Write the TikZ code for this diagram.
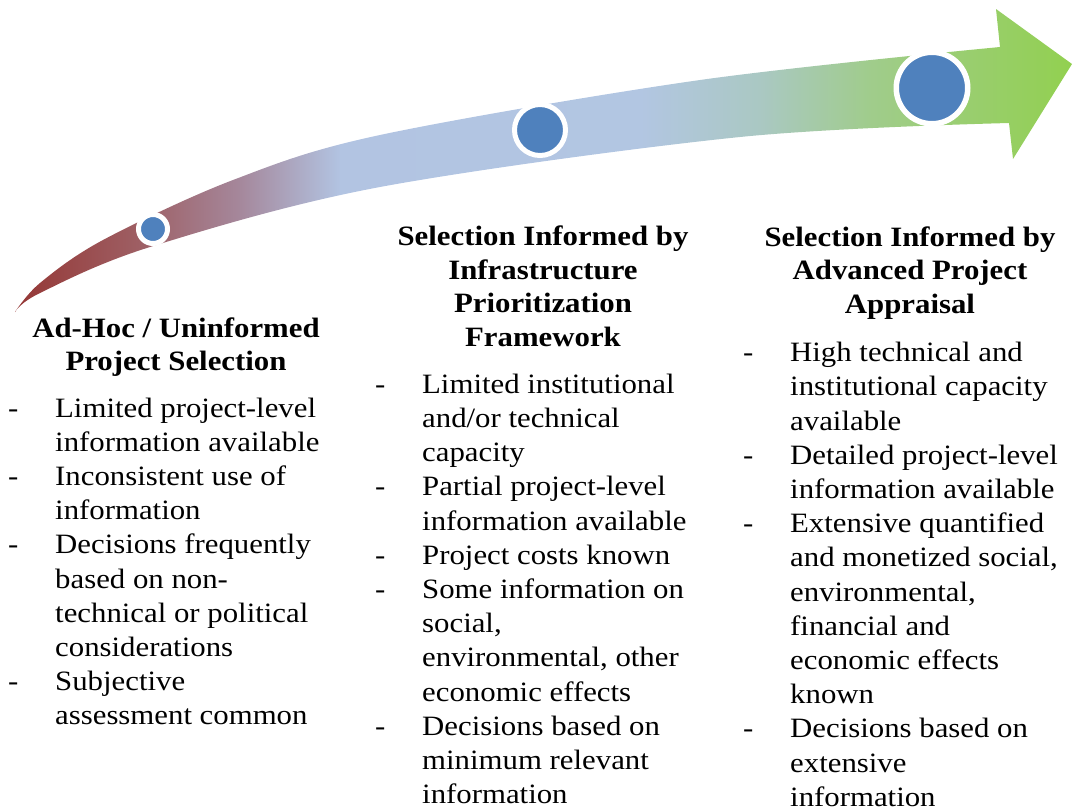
\documentclass[tikz,border=0pt]{standalone}
\usepackage{fontspec}
\setmainfont{Liberation Serif}[FakeStretch=1.1]
\usepackage{array}
\definecolor{c0}{RGB}{149,55,53}
\definecolor{c1}{RGB}{158,95,100}
\definecolor{c2}{RGB}{165,135,155}
\definecolor{c3}{RGB}{178,196,226}
\definecolor{c4}{RGB}{178,198,226}
\definecolor{c5}{RGB}{170,200,195}
\definecolor{c6}{RGB}{160,204,140}
\definecolor{c7}{RGB}{146,208,80}
\definecolor{dotblue}{RGB}{79,129,189}
\pgfdeclarehorizontalshading{bandshade}{100bp}{color(0bp)=(c0); color(25bp)=(c0); color(30.9bp)=(c1); color(35.6bp)=(c2); color(40.4bp)=(c3); color(54.6bp)=(c4); color(60.2bp)=(c5); color(65.4bp)=(c6); color(75bp)=(c7); color(100bp)=(c7)}
\tikzset{
  ringdot/.style={circle, fill=dotblue, draw=white, inner sep=0pt},
  headtext/.style={anchor=base, inner sep=0pt, font=\fontsize{28}{33.6}\selectfont\bfseries},
  bodytext/.style={anchor=base west, inner sep=0pt, font=\fontsize{28}{34.2}\selectfont}
}
\newcommand{\bodylist}[1]{\begin{tabular}[t]{@{}p{47pt}@{}l@{}}#1\end{tabular}}
\newcommand{\headlist}[1]{\begin{tabular}[t]{@{}c@{}}#1\end{tabular}}
\begin{document}
\begin{tikzpicture}[x=1pt,y=-1pt]
\useasboundingbox (0,0) rectangle (1072,812);
% curved arrow band
\shade[shading=bandshade]
  (15,312) -- plot[smooth, tension=0.55] coordinates {(15,312) (40,283) (103,240) (233,180) (380,135) (700,80) (1000,47)}
  -- (996,9) -- (1072,64) -- (1013,159) -- (1009,123)
  -- plot[smooth, tension=0.55] coordinates {(1009,123) (740,137) (380,187) (150,247) (40,293) (15,312)}
  -- cycle;
% milestone dots
\node[ringdot, minimum size=29pt, line width=5pt] (d1) at (153,229) {};
\node[ringdot, minimum size=51pt, line width=5pt] (d2) at (540,130) {};
\node[ringdot, minimum size=71.5pt, line width=5.5pt] (d3) at (932,88) {};
% headings
\node[headtext] (h1) at (176,337) {\headlist{Ad-Hoc / Uninformed\\ Project Selection}};
\node[headtext] (h2) at (543,245.7) {\headlist{Selection Informed by\\ Infrastructure\\ Prioritization\\ Framework}};
\node[headtext] (h3) at (910,246) {\headlist{Selection Informed by\\ Advanced Project\\ Appraisal}};
% bullet lists
\node[bodytext] (b1) at (8,417) {\bodylist{
- & Limited project-level\\
  & information available\\
- & Inconsistent use of\\
  & information\\
- & Decisions frequently\\
  & based on non-\\
  & technical or political\\
  & considerations\\
- & Subjective\\
  & assessment common}};
\node[bodytext] (b2) at (375,393.3) {\bodylist{
- & Limited institutional\\
  & and/or technical\\
  & capacity\\
- & Partial project-level\\
  & information available\\
- & Project costs known\\
- & Some information on\\
  & social,\\
  & environmental, other\\
  & economic effects\\
- & Decisions based on\\
  & minimum relevant\\
  & information}};
\node[bodytext] (b3) at (743,361.7) {\bodylist{
- & High technical and\\
  & institutional capacity\\
  & available\\
- & Detailed project-level\\
  & information available\\
- & Extensive quantified\\
  & and monetized social,\\
  & environmental,\\
  & financial and\\
  & economic effects\\
  & known\\
- & Decisions based on\\
  & extensive\\
  & information}};
\end{tikzpicture}
\end{document}
